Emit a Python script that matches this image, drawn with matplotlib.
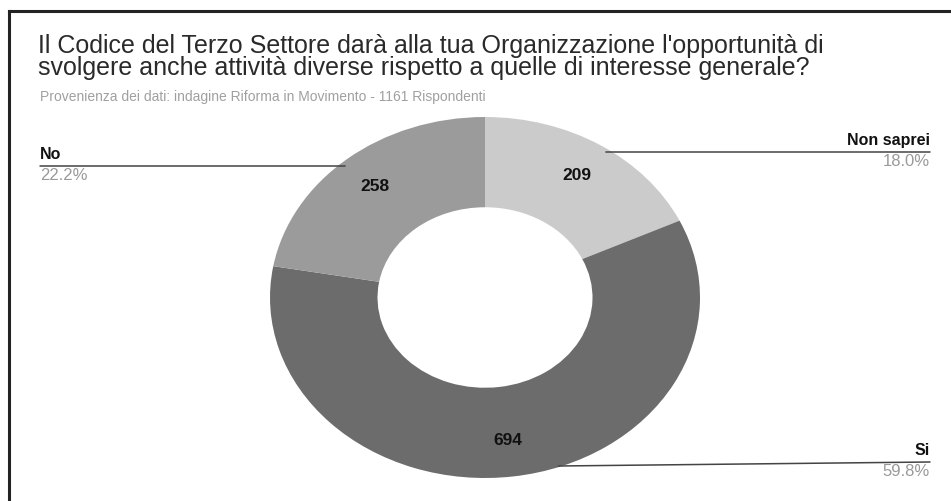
import numpy as np
import matplotlib.pyplot as plt
from matplotlib.lines import Line2D

plt.rcParams['font.family'] = ['Liberation Sans', 'DejaVu Sans']

title = ("Il Codice del Terzo Settore darà alla tua Organizzazione l'opportunità di\n"
         "svolgere anche attività diverse rispetto a quelle di interesse generale?")
subtitle = "Provenienza dei dati: indagine Riforma in Movimento - 1161 Rispondenti"

labels = ["Non saprei", "Si", "No"]
counts = [209, 694, 258]
colors = ["#cbcbcb", "#6c6c6c", "#9b9b9b"]

W, H = 951, 501
fig = plt.figure(figsize=(W / 100, H / 100), dpi=100)
fig.patch.set_facecolor("white")

# frame lines (top and left edge)
fig.add_artist(Line2D([9 / W, 1], [1 - 11 / H, 1 - 11 / H], color="#222222", lw=2.2))
fig.add_artist(Line2D([9 / W, 9 / W], [0, 1 - 11 / H], color="#222222", lw=2.2))

fig.text(38 / W, 1 - 75 / H, title, fontsize=18, color="#2a2a2a",
         va="baseline", ha="left", linespacing=0.9)
fig.text(40 / W, 1 - 97 / H, subtitle, fontsize=10, color="#a0a0a0",
         va="center", ha="left")

# elliptical donut: pie drawn into a non-square axes
left, right, top, bottom = 270, 700, 117, 478
cy = (top + bottom) / 2
ry = (bottom - top) / 2
ax = fig.add_axes([left / W, 1 - bottom / H, (right - left) / W, (bottom - top) / H])
total = sum(counts)
wedges, _, autotexts = ax.pie(
    counts, colors=colors, startangle=90, counterclock=False,
    autopct=lambda p: f"{round(p * total / 100):d}", pctdistance=0.8,
    wedgeprops=dict(width=0.5, edgecolor="none"),
    textprops=dict(fontsize=12.5, fontweight="bold", color="#111111"))
ax.set_aspect("auto")
ax.set_xlim(-1, 1)
ax.set_ylim(-1, 1)
ax.axis("off")

# leader lines and outside labels: (text x, line y at text, line y at ring, alignment)
label_pos = {
    "No": (40, 166, 166, "left"),
    "Non saprei": (930, 152, 152, "right"),
    "Si": (930, 462, 466, "right"),
}
for w, lab, n in zip(wedges, labels, counts):
    xt, yl, yr, ha = label_pos[lab]
    # point on the outer ring edge at the leader's height
    yd = (cy - yr) / ry
    mid = np.deg2rad((w.theta1 + w.theta2) / 2)
    xd = np.sign(np.cos(mid)) * np.sqrt(max(1 - yd ** 2, 0)) * 0.95
    ax.annotate("", xy=(xd, yd), xycoords="data",
                xytext=(xt, H - yl), textcoords="figure pixels",
                arrowprops=dict(arrowstyle="-", color="#444444", lw=1.1,
                                shrinkA=0, shrinkB=0))
    fig.text(xt / W, 1 - (yl - 4) / H, lab, fontsize=11.5, fontweight="bold",
             color="#111111", ha=ha, va="bottom")
    fig.text(xt / W, 1 - (yl + 2) / H, f"{100 * n / total:.1f}%", fontsize=12,
             color="#9a9a9a", ha=ha, va="top")

fig.savefig("out.png", dpi=100, facecolor="white")
